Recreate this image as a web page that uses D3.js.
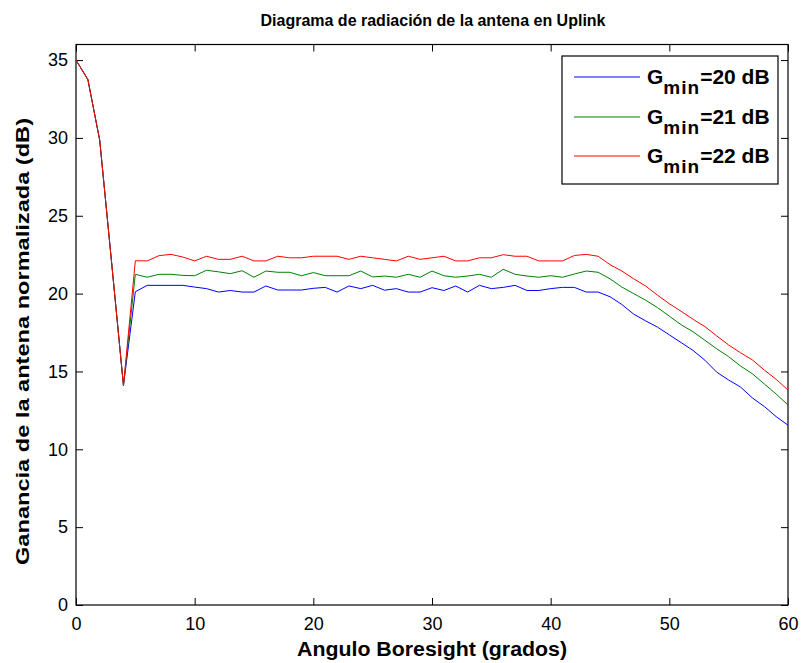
<!DOCTYPE html>
<html>
<head>
<meta charset="utf-8">
<script src="https://cdn.jsdelivr.net/npm/d3@7"></script>
<style>
  html, body { margin: 0; padding: 0; background: #fff; }
  svg { display: block; font-family: "Liberation Sans", Arial, sans-serif; }
</style>
</head>
<body>
<svg id="chart" width="801" height="663"></svg>
<script>
// Boresight angle, degrees
const angles = d3.range(0, 61);

// Normalised antenna gain (dB) for each minimum-gain setting
const gain20 = [35, 33.75, 29.85, 22.0, 14.1,
  20.12, 20.53, 20.53, 20.53, 20.53, 20.42, 20.32, 20.1, 20.2, 20.1,
  20.1, 20.49, 20.23, 20.23, 20.23, 20.34, 20.4, 20.1, 20.49, 20.32,
  20.53, 20.22, 20.32, 20.1, 20.1, 20.38, 20.2, 20.49, 20.1, 20.53,
  20.32, 20.4, 20.53, 20.2, 20.2, 20.32, 20.4, 20.4, 20.1, 20.1,
  19.8, 19.3, 18.68, 18.25, 17.85, 17.35, 16.85, 16.35, 15.72, 14.95,
  14.45, 14.0, 13.3, 12.75, 12.1, 11.55];

const gain21 = [35, 33.75, 29.85, 22.0, 14.1,
  21.24, 21.05, 21.24, 21.24, 21.17, 21.15, 21.5, 21.4, 21.28, 21.47,
  21.05, 21.45, 21.37, 21.37, 21.15, 21.35, 21.15, 21.15, 21.15, 21.45,
  21.07, 21.13, 21.05, 21.24, 21.05, 21.45, 21.15, 21.05, 21.13, 21.24,
  21.05, 21.56, 21.24, 21.13, 21.05, 21.15, 21.05, 21.26, 21.45, 21.37,
  20.95, 20.42, 20.0, 19.58, 19.1, 18.55, 18.0, 17.55, 17.0, 16.45,
  15.95, 15.35, 14.85, 14.2, 13.55, 12.85];

const gain22 = [35, 33.75, 29.85, 22.0, 14.1,
  22.11, 22.1, 22.44, 22.52, 22.35, 22.1, 22.4, 22.2, 22.2, 22.4,
  22.1, 22.1, 22.4, 22.3, 22.3, 22.4, 22.4, 22.4, 22.2, 22.4,
  22.3, 22.2, 22.1, 22.4, 22.2, 22.3, 22.4, 22.1, 22.1, 22.3,
  22.3, 22.5, 22.4, 22.4, 22.1, 22.1, 22.1, 22.45, 22.52, 22.4,
  21.86, 21.45, 20.95, 20.49, 19.9, 19.35, 18.86, 18.35, 17.88, 17.28,
  16.7, 16.2, 15.74, 15.09, 14.5, 13.8];

const seriesNames = ["20", "21", "22"];
const seriesColors = ["#0000ff", "#008000", "#ff0000"];
const seriesValues = [gain20, gain21, gain22];

const xTicks = [0, 10, 20, 30, 40, 50, 60];
const yTicks = [0, 5, 10, 15, 20, 25, 30, 35];

const titleText = "Diagrama de radiación de la antena en Uplink";
const xLabelText = "Angulo Boresight (grados)";
const yLabelText = "Ganancia de la antena normalizada (dB)";

(function draw() {
  const svg = d3.select("#chart");
  const pLeft = 76, pRight = 788, pTop = 44.5, pBottom = 605;

  const x = d3.scaleLinear().domain([0, 60]).range([pLeft, pRight]);
  const y = d3.scaleLinear().domain([0, 36]).range([pBottom, pTop]);

  const tickLen = 7;

  // Axes with inward ticks on all four sides
  const gx = svg.append("g").attr("transform", `translate(0,${pBottom})`)
    .call(d3.axisBottom(x).tickValues(xTicks).tickSizeInner(-tickLen).tickSizeOuter(0).tickPadding(tickLen + 5));
  const gxTop = svg.append("g").attr("transform", `translate(0,${pTop})`)
    .call(d3.axisTop(x).tickValues(xTicks).tickSizeInner(-tickLen).tickSizeOuter(0).tickFormat(""));
  const gy = svg.append("g").attr("transform", `translate(${pLeft},0)`)
    .call(d3.axisLeft(y).tickValues(yTicks).tickSizeInner(-tickLen).tickSizeOuter(0).tickPadding(tickLen + 1));
  const gyRight = svg.append("g").attr("transform", `translate(${pRight},0)`)
    .call(d3.axisRight(y).tickValues(yTicks).tickSizeInner(-tickLen).tickSizeOuter(0).tickFormat(""));

  [gx, gxTop, gy, gyRight].forEach(g => {
    g.select(".domain").remove();
    g.selectAll(".tick line").attr("stroke", "#000").attr("stroke-width", 1);
    g.selectAll(".tick text").attr("fill", "#000").attr("font-size", 18)
      .attr("font-family", "'Liberation Sans', Arial, sans-serif");
  });

  // Plot frame
  svg.append("rect")
    .attr("x", pLeft).attr("y", pTop)
    .attr("width", pRight - pLeft).attr("height", pBottom - pTop)
    .attr("fill", "none").attr("stroke", "#000").attr("stroke-width", 1.2);

  // Curves
  const line = d3.line().x((d, i) => x(angles[i])).y(d => y(d));
  seriesValues.forEach((vals, k) => {
    svg.append("path")
      .datum(vals)
      .attr("fill", "none")
      .attr("stroke", seriesColors[k])
      .attr("stroke-width", 1)
      .attr("stroke-linejoin", "round")
      .attr("d", line);
  });

  // Title and axis labels
  svg.append("text")
    .attr("x", 433).attr("y", 26)
    .attr("text-anchor", "middle").attr("font-weight", "bold").attr("font-size", 16)
    .text(titleText);

  svg.append("text")
    .attr("x", 432).attr("y", 656)
    .attr("text-anchor", "middle").attr("font-weight", "bold").attr("font-size", 20)
    .attr("textLength", 270).attr("lengthAdjust", "spacingAndGlyphs")
    .text(xLabelText);

  svg.append("text")
    .attr("transform", `translate(29,${(118 + 565) / 2}) rotate(-90)`)
    .attr("text-anchor", "middle").attr("font-weight", "bold").attr("font-size", 19)
    .attr("textLength", 447).attr("lengthAdjust", "spacingAndGlyphs")
    .text(yLabelText);

  // Legend
  const lg = svg.append("g");
  lg.append("rect")
    .attr("x", 562).attr("y", 56).attr("width", 216).attr("height", 128)
    .attr("fill", "#fff").attr("stroke", "#000").attr("stroke-width", 1.2);

  const rowY = [77, 117, 156];
  seriesNames.forEach((name, k) => {
    lg.append("line")
      .attr("x1", 574).attr("x2", 640)
      .attr("y1", rowY[k]).attr("y2", rowY[k])
      .attr("stroke", seriesColors[k]).attr("stroke-width", 1);
    const t = lg.append("text")
      .attr("x", 647).attr("y", rowY[k] + 6.5)
      .attr("font-weight", "bold").attr("font-size", 21);
    t.append("tspan").text("G");
    t.append("tspan").attr("dy", 10).attr("font-size", 19).attr("letter-spacing", 1).text("min");
    t.append("tspan").attr("dy", -10).text(`=${name} dB`);
  });
})();
</script>
</body>
</html>
